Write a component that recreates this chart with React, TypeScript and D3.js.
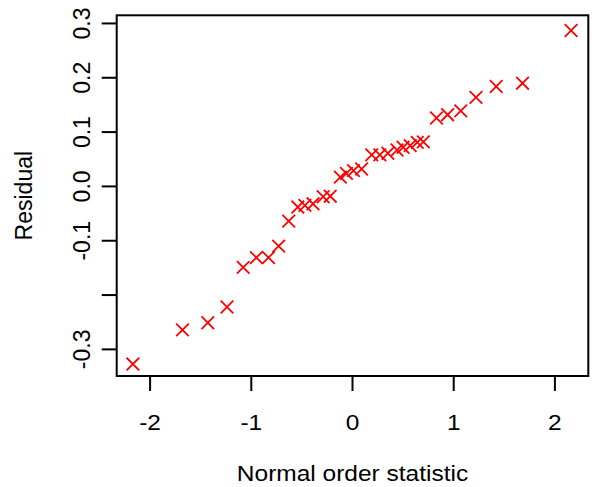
import React, { useEffect, useRef } from 'react';
import * as d3 from 'd3';

// normal order statistics (x)
const normalScores = [
  -2.17, -1.68, -1.43, -1.24, -1.08, -0.95, -0.83, -0.73, -0.63, -0.54, -0.47,
  -0.39, -0.29, -0.22, -0.12, -0.06, 0.01, 0.09, 0.19, 0.27, 0.35, 0.44, 0.5,
  0.57, 0.64, 0.7, 0.83, 0.94, 1.07, 1.22, 1.42, 1.68, 2.16,
];

// residuals (y), same order
const residuals = [
  -0.327, -0.264, -0.251, -0.222, -0.149, -0.131, -0.131, -0.11, -0.064, -0.038,
  -0.035, -0.032, -0.019, -0.018, 0.017, 0.024, 0.029, 0.032, 0.058, 0.058, 0.061,
  0.067, 0.072, 0.075, 0.081, 0.082, 0.126, 0.132, 0.139, 0.164, 0.184, 0.19, 0.287,
];

const xTicks = [-2, -1, 0, 1, 2];
const yTicks = [-0.3, -0.2, -0.1, 0.0, 0.1, 0.2, 0.3];
// R dropped the -0.2 label (tick is still there)
const yTickLabels = ['-0.3', '', '-0.1', '0.0', '0.1', '0.2', '0.3'];

const xTitle = 'Normal order statistic';
const yTitle = 'Residual';

export default function App() {
  const svgRef = useRef<SVGSVGElement>(null);

  useEffect(() => {
    if (!svgRef.current) return;
    const svg = d3.select(svgRef.current);
    svg.selectAll('*').remove();

    const left = 116.7, right = 588.3, top = 15.3, bottom = 376;
    const font = 'Liberation Sans, Arial, Helvetica, sans-serif';
    const fsH = 24.5; // horizontal text runs a little wider in the reference
    const fsV = 23;

    const x = d3.scaleLinear().domain([-2.33, 2.33]).range([left, right]);
    const y = d3.scaleLinear().domain([-0.349, 0.315]).range([bottom, top]);

    // points (pch = 4)
    const s = 6.3;
    const pts = svg.append('g')
      .attr('stroke', '#ff0000')
      .attr('stroke-width', 1.8)
      .attr('fill', 'none');
    normalScores.forEach((nx, i) => {
      const cx = x(nx), cy = y(residuals[i]);
      pts.append('path')
        .attr('d', `M${cx - s},${cy - s}L${cx + s},${cy + s}M${cx - s},${cy + s}L${cx + s},${cy - s}`);
    });

    // box
    svg.append('rect')
      .attr('x', left)
      .attr('y', top)
      .attr('width', right - left)
      .attr('height', bottom - top)
      .attr('fill', 'none')
      .attr('stroke', '#000')
      .attr('stroke-width', 2);

    // x axis
    const xa = svg.append('g');
    xa.selectAll('line')
      .data(xTicks)
      .enter()
      .append('line')
      .attr('x1', d => x(d)).attr('x2', d => x(d))
      .attr('y1', bottom).attr('y2', bottom + 15)
      .attr('stroke', '#000')
      .attr('stroke-width', 2);
    xa.selectAll('text')
      .data(xTicks)
      .enter()
      .append('text')
      .attr('transform', d => `translate(${x(d)},430) scale(1,0.92)`)
      .attr('text-anchor', 'middle')
      .attr('font-family', font)
      .attr('font-size', fsH)
      .text(d => String(d));

    // y axis
    const ya = svg.append('g');
    ya.selectAll('line')
      .data(yTicks)
      .enter()
      .append('line')
      .attr('x1', left - 15).attr('x2', left)
      .attr('y1', d => y(d)).attr('y2', d => y(d))
      .attr('stroke', '#000')
      .attr('stroke-width', 2);
    ya.selectAll('text')
      .data(yTicks)
      .enter()
      .append('text')
      .attr('transform', d => `translate(90,${y(d)}) rotate(-90)`)
      .attr('text-anchor', 'middle')
      .attr('font-family', font)
      .attr('font-size', fsV)
      .text((d, i) => yTickLabels[i]);

    // titles
    svg.append('text')
      .attr('transform', `translate(${(left + right) / 2},481) scale(1,0.92)`)
      .attr('text-anchor', 'middle')
      .attr('font-family', font)
      .attr('font-size', fsH)
      .text(xTitle);

    svg.append('text')
      .attr('transform', `translate(31.5,${(top + bottom) / 2}) rotate(-90)`)
      .attr('text-anchor', 'middle')
      .attr('font-family', font)
      .attr('font-size', fsV)
      .text(yTitle);
  }, []);

  return (
    <svg
      ref={svgRef}
      width={594}
      height={487}
      style={{ position: 'absolute', left: 0, top: 0, background: '#fff' }}
    />
  );
}
